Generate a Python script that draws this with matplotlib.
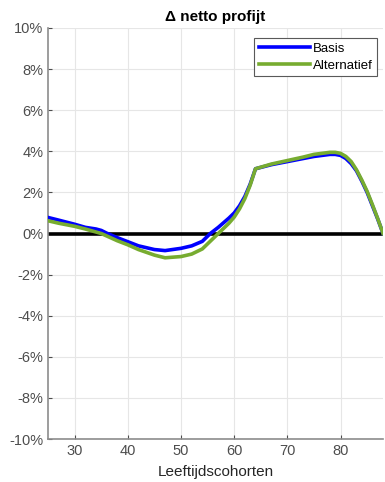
import matplotlib
matplotlib.use("Agg")
import matplotlib.pyplot as plt
from matplotlib.ticker import FuncFormatter

plt.rcParams['font.family'] = ['Liberation Sans', 'DejaVu Sans']

# Age cohorts and net-benefit change (%)
ages_basis = [25, 27, 30, 32, 34, 35, 36, 38, 40, 42, 45, 47, 50, 52, 54, 55.5, 57,
              59, 60, 61, 62, 63, 64, 67, 70, 73, 75, 78, 79, 80, 81, 82, 83, 84, 85, 86, 87, 88]
basis = [0.78, 0.65, 0.45, 0.3, 0.22, 0.15, 0.02, -0.2, -0.4, -0.6, -0.78, -0.83, -0.72, -0.6, -0.38, 0.0, 0.3,
         0.75, 1.0, 1.35, 1.8, 2.4, 3.15, 3.35, 3.5, 3.65, 3.75, 3.85, 3.85, 3.8, 3.65, 3.4, 3.05, 2.55, 2.0, 1.35, 0.7, 0.0]

ages_alt = [25, 27, 30, 32, 35, 38, 40, 42, 45, 47, 50, 52, 54, 55, 57, 59, 60, 61, 62, 63, 64,
            67, 70, 73, 75, 78, 79, 80, 81, 82, 83, 84, 85, 86, 87, 88]
alternatief = [0.62, 0.5, 0.35, 0.22, 0.0, -0.35, -0.55, -0.78, -1.05, -1.18, -1.12, -1.0, -0.75, -0.5, 0.0, 0.5,
               0.8, 1.2, 1.7, 2.35, 3.15, 3.38, 3.55, 3.72, 3.85, 3.95, 3.95, 3.9, 3.75, 3.5, 3.1, 2.6, 2.05, 1.4, 0.72, 0.0]

xticks = [30, 40, 50, 60, 70, 80]
yticks = list(range(-10, 11, 2))

fig = plt.figure(figsize=(3.85, 4.82), dpi=100)
ax = fig.add_axes([0.125, 0.089, 0.87, 0.853])

ax.plot([25, 88], [0, 0], color='black', lw=2.6, zorder=2)
ax.plot(ages_basis, basis, color='#0000ff', lw=2.6, label='Basis', zorder=3)
ax.plot(ages_alt, alternatief, color='#77ac30', lw=2.6, label='Alternatief', zorder=4)

ax.set_xlim(25, 88)
ax.set_ylim(-10, 10)
ax.set_xticks(xticks)
ax.set_yticks(yticks)
ax.yaxis.set_major_formatter(FuncFormatter(lambda v, p: f"{v:.0f}%"))
ax.grid(True, color='#e6e6e6', lw=0.8)
ax.set_axisbelow(True)

for s in ['top', 'right']:
    ax.spines[s].set_visible(False)
for s in ['left', 'bottom']:
    ax.spines[s].set_color('#8c8c8c')
    ax.spines[s].set_linewidth(1.2)
ax.tick_params(colors='#4d4d4d', labelsize=10.5, length=3, direction='in', width=0.8)
for lbl in ax.get_xticklabels() + ax.get_yticklabels():
    lbl.set_color('#4d4d4d')

ax.set_title('Δ netto profijt', fontsize=11, fontweight='bold', pad=5)
ax.set_xlabel('Leeftijdscohorten', fontsize=11, color='#262626', labelpad=5)

leg = ax.legend(loc='upper right', bbox_to_anchor=(0.995, 0.985), fontsize=9.5,
                handlelength=3.9, handletextpad=0.2, borderpad=0.35, labelspacing=0.35,
                fancybox=False, framealpha=1, edgecolor='#595959', borderaxespad=0.3)
leg.get_frame().set_linewidth(0.8)

fig.savefig('out.png', dpi=100)
